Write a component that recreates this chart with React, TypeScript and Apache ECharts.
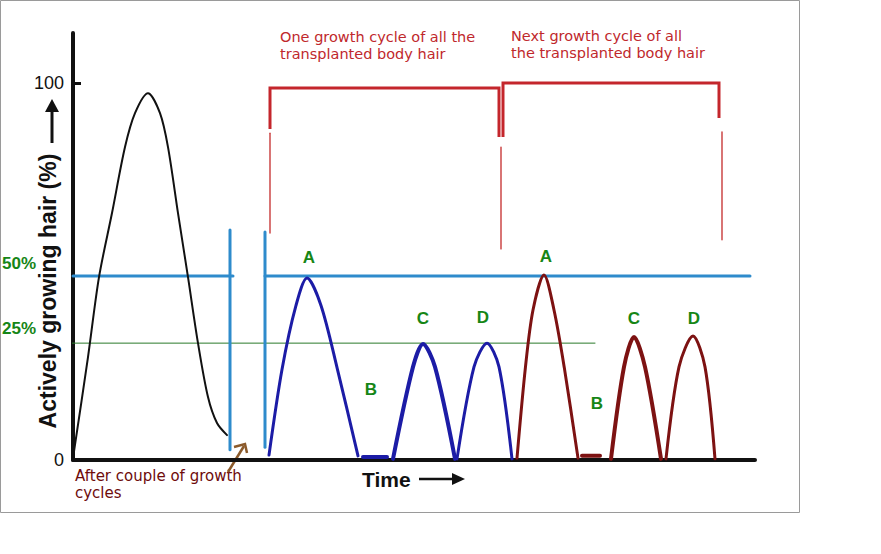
import React, { useEffect, useRef } from "react";
import * as echarts from "echarts";

// Time runs 0..682 (arbitrary units), activity in % (0..113.3 visible, tick at 100)
const X_MAX = 682;
const Y_MAX = 113.26;

const yLabelValues = [0, 100];
const yTickValues = [100];

// Early growth cycles (before transplant cycles)
const blackCycle: number[][] = [
  [0, 0.5], [15, 27.3], [26, 48.5], [39, 65.5], [52, 83.0], [62, 92.0], [75, 97.3],
  [87, 92.0], [95, 83.0], [105, 65.5], [115, 48.5], [125, 31.0], [135, 16.7], [144, 9.8], [154, 6.6],
];

// First cycle of transplanted body hair
const blueA: number[][] = [
  [196, 1.3], [209, 24.0], [223, 41.0], [234, 48.3], [248, 41.0], [264.5, 24.0], [285, 1.1],
];
const blueB: number[][] = [[290, 0.8], [314, 0.8]];
const blueC: number[][] = [
  [320, 0.3], [340, 24.7], [350, 30.8], [362, 24.7], [382, 0.3],
];
const blueD: number[][] = [
  [384, 0.3], [401, 24.7], [414, 31.0], [426, 24.7], [439, 0.3],
];

// Next cycle
const redA: number[][] = [
  [444, 0.5], [452.4, 24.5], [460, 39.8], [471, 49.1], [481, 39.8], [491.3, 24.5], [505, 0.5],
];
const redB: number[][] = [[509, 1.1], [527, 1.1]];
const redC: number[][] = [
  [538, 0.3], [551, 24.7], [561, 32.6], [572, 24.7], [588, 0.3],
];
const redD: number[][] = [
  [593, 0.3], [606, 24.7], [620, 32.9], [632, 24.7], [642, 0.3],
];

// Guide lines
const level50Left: number[][] = [[0, 48.8], [160, 48.8]];
const level50Right: number[][] = [[192, 48.8], [677, 48.8]];
const dividerLeft: number[][] = [[157, 61.0], [157, 2.7]];
const dividerRight: number[][] = [[192, 60.5], [192, 3.4]];
const green50: number[][] = [[-53, 48.8], [0, 48.8]];
const green25: number[][] = [[-55, 31.0], [522, 31.0]];

// Cycle brackets
const bracket1: number[][] = [[197, 87.8], [197, 98.7], [426, 98.7], [426, 85.7]];
const bracket1ThinL: number[][] = [[197, 86.7], [197, 60.2]];
const bracket1ThinR: number[][] = [[428, 83.0], [428, 56.0]];
const bracket2: number[][] = [[430, 85.7], [430, 100], [646, 100], [646, 90.7]];
const bracket2ThinR: number[][] = [[649, 87.0], [649, 58.4]];

// Phase letters
const phaseLabels = [
  { name: "A", value: [236, 53.8] },
  { name: "B", value: [298, 18.8] },
  { name: "C", value: [350, 37.4] },
  { name: "D", value: [410, 37.7] },
  { name: "A", value: [473, 54.1] },
  { name: "B", value: [524, 15.1] },
  { name: "C", value: [561, 37.4] },
  { name: "D", value: [621, 37.4] },
];

const BLUE_GUIDE = "#2e8bcc";
const BLUE_CURVE = "#1c1ca6";
const RED_CURVE = "#7d1212";
const RED_BRACKET = "#c4262c";
const GREEN = "#168616";

function line(data: number[][], color: string, width: number, extra: any = {}) {
  return {
    type: "line",
    data,
    symbol: "none",
    showSymbol: false,
    silent: true,
    animation: false,
    lineStyle: { color, width, cap: "round", join: "round" },
    ...extra,
  };
}

const curve = { smooth: 0.3 };

export default function App() {
  const ref = useRef<HTMLDivElement>(null);
  useEffect(() => {
    if (!ref.current) return;
    const chart = echarts.init(ref.current, null, { renderer: "svg" });
    const option: any = {
      animation: false,
      backgroundColor: "#ffffff",
      grid: { left: 73, top: 33, width: 682, height: 427 },
      xAxis: {
        type: "value",
        min: 0,
        max: X_MAX,
        axisLine: { show: true, lineStyle: { color: "#111", width: 4 } },
        axisTick: { show: false },
        axisLabel: { show: false },
        splitLine: { show: false },
      },
      yAxis: {
        type: "value",
        min: 0,
        max: Y_MAX,
        axisLine: { show: true, lineStyle: { color: "#111", width: 4 } },
        axisTick: {
          show: true,
          inside: true,
          length: 8,
          customValues: yTickValues,
          lineStyle: { color: "#111", width: 3 },
        },
        axisLabel: {
          show: true,
          customValues: yLabelValues,
          margin: 9,
          fontSize: 18,
          color: "#111",
          fontFamily: "Liberation Sans, Arial, sans-serif",
        },
        splitLine: { show: false },
      },
      series: [
        line(green50, "#2a7a2a", 1, { clip: false }),
        line(green25, "#2a7a2a", 1, { clip: false }),
        line(level50Left, BLUE_GUIDE, 3),
        line(level50Right, BLUE_GUIDE, 3),
        line(dividerLeft, BLUE_GUIDE, 3),
        line(dividerRight, BLUE_GUIDE, 3),
        line(bracket1, RED_BRACKET, 3, { lineStyle: { color: RED_BRACKET, width: 3, cap: "butt", join: "miter" } }),
        line(bracket1ThinL, "#c42a2a", 1.3),
        line(bracket1ThinR, "#c42a2a", 1.3),
        line(bracket2, RED_BRACKET, 3, { lineStyle: { color: RED_BRACKET, width: 3, cap: "butt", join: "miter" } }),
        line(bracket2ThinR, "#c42a2a", 1.3),
        line(blackCycle, "#111", 2, curve),
        line(blueA, BLUE_CURVE, 3, curve),
        line(blueB, BLUE_CURVE, 4),
        line(blueC, BLUE_CURVE, 4, curve),
        line(blueD, BLUE_CURVE, 3, curve),
        line(redA, RED_CURVE, 3, curve),
        line(redB, RED_CURVE, 4),
        line(redC, RED_CURVE, 4, curve),
        line(redD, RED_CURVE, 3, curve),
        {
          type: "scatter",
          data: phaseLabels,
          symbolSize: 1,
          silent: true,
          itemStyle: { color: "rgba(0,0,0,0)", opacity: 1 },
          label: {
            show: true,
            position: "inside",
            formatter: (p: any) => p.name,
            color: GREEN,
            opacity: 1,
            textBorderWidth: 0,
            fontSize: 17,
            fontWeight: "bold",
            fontFamily: "Liberation Sans, Arial, sans-serif",
          },
        },
      ],
      graphic: [
        {
          type: "rect",
          silent: true,
          z: -10,
          shape: { x: 0.5, y: 0.5, width: 799, height: 512 },
          style: { fill: "none", stroke: "#9a9a9a", lineWidth: 1 },
        },
        {
          type: "text", x: 280, y: 45, silent: true,
          style: {
            text: "One growth cycle of all the\ntransplanted body hair", fill: "#c0282c",
            font: '14.5px "DejaVu Sans"', lineHeight: 17, verticalAlign: "middle",
          },
        },
        {
          type: "text", x: 511, y: 44.5, silent: true,
          style: {
            text: "Next growth cycle of all\nthe transplanted body hair", fill: "#c0282c",
            font: '14.5px "DejaVu Sans"', lineHeight: 17, verticalAlign: "middle",
          },
        },
        {
          type: "text", x: 75, y: 484.5, silent: true,
          style: {
            text: "After couple of growth\ncycles", fill: "#6e0b0b",
            font: '15px "DejaVu Sans"', lineHeight: 17, verticalAlign: "middle",
          },
        },
        {
          type: "text", x: 362, y: 479, silent: true,
          style: { text: "Time", fill: "#111", font: 'bold 21px "Liberation Sans"', verticalAlign: "middle" },
        },
        {
          type: "line", silent: true,
          shape: { x1: 419, y1: 479, x2: 455, y2: 479 },
          style: { stroke: "#111", lineWidth: 2.5 },
        },
        {
          type: "polygon", silent: true,
          shape: { points: [[465, 479], [452, 473], [452, 485]] },
          style: { fill: "#111" },
        },
        {
          type: "text", x: 48, y: 291, rotation: Math.PI / 2, silent: true,
          style: {
            text: "Actively growing hair (%)", fill: "#111", font: 'bold 23px "Liberation Sans"',
            align: "center", verticalAlign: "middle",
          },
        },
        {
          type: "line", silent: true,
          shape: { x1: 52, y1: 143, x2: 52, y2: 110 },
          style: { stroke: "#111", lineWidth: 3 },
        },
        {
          type: "polygon", silent: true,
          shape: { points: [[52, 99], [45, 112], [59, 112]] },
          style: { fill: "#111" },
        },
        {
          type: "text", x: 2, y: 263, silent: true,
          style: { text: "50%", fill: GREEN, font: 'bold 17px "Liberation Sans"', verticalAlign: "middle" },
        },
        {
          type: "text", x: 2, y: 328, silent: true,
          style: { text: "25%", fill: GREEN, font: 'bold 17px "Liberation Sans"', verticalAlign: "middle" },
        },
        {
          type: "line", silent: true,
          shape: { x1: 228, y1: 472, x2: 244, y2: 446 },
          style: { stroke: "#8b5a2b", lineWidth: 2.5 },
        },
        {
          type: "polyline", silent: true,
          shape: { points: [[234, 447], [245, 444], [247, 453]] },
          style: { stroke: "#8b5a2b", lineWidth: 2.5, fill: "none" },
        },
      ],
    };
    chart.setOption(option);
    return () => chart.dispose();
  }, []);
  return (
    <div
      ref={ref}
      style={{ position: "absolute", left: 0, top: 0, width: 881, height: 554, background: "#fff" }}
    />
  );
}
